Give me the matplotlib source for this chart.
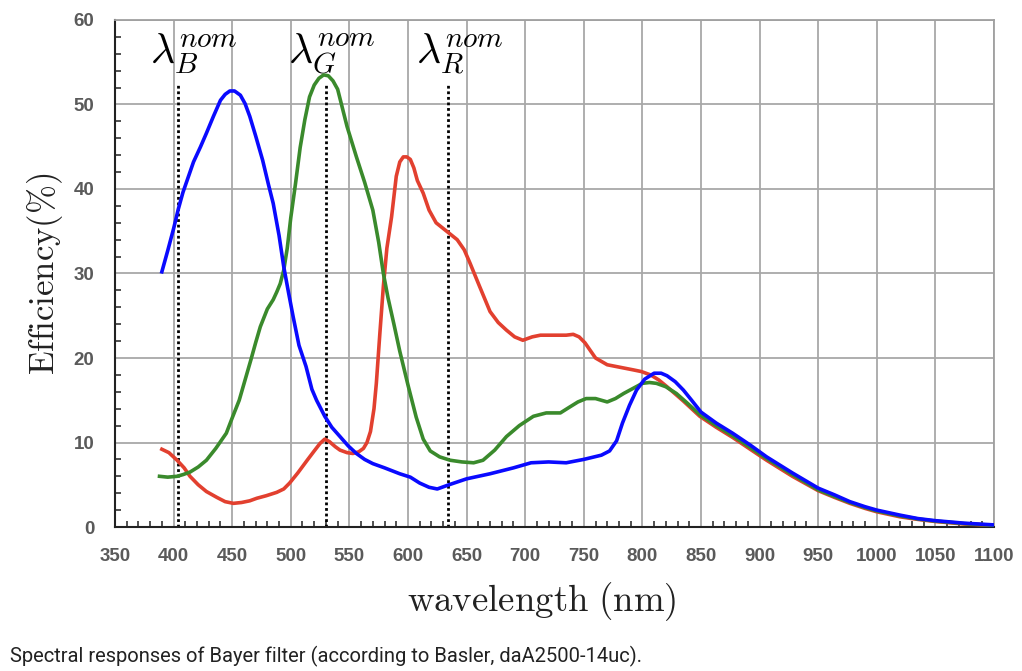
import matplotlib
matplotlib.use('Agg')
import matplotlib.pyplot as plt
from matplotlib.ticker import MultipleLocator

plt.rcParams['mathtext.fontset'] = 'cm'

# Blue channel
blue_nm = [390, 395, 400, 404, 408, 413, 417, 423, 428, 434, 440, 444, 448, 452, 457,
           461, 465, 470, 476, 481, 485, 490, 494, 498, 502, 507, 513, 518, 522, 529,
           535, 542, 549, 556, 563, 570, 580, 593, 602, 610, 618, 625, 635, 650,
           670, 690, 705, 720, 735, 750, 765, 772, 778, 783, 789, 795, 802, 810, 816,
           821, 828, 835, 842, 850, 863, 877, 892, 906, 928, 950, 964, 977, 990, 1000,
           1020, 1035, 1050, 1075, 1100]
blue_eff = [30.2, 32.7, 35.3, 37.6, 39.6, 41.6, 43.2, 45.0, 46.6, 48.6, 50.5, 51.2, 51.6, 51.6, 51.1,
            50.1, 48.6, 46.3, 43.4, 40.5, 38.3, 34.5, 30.8, 27.8, 24.9, 21.5, 19.0, 16.3, 15.0, 13.1,
            11.8, 10.7, 9.6, 8.7, 8.0, 7.5, 7.0, 6.3, 5.9, 5.2, 4.7, 4.5, 5.0, 5.7,
            6.3, 7.0, 7.6, 7.7, 7.6, 8.0, 8.5, 9.0, 10.2, 12.3, 14.4, 16.2, 17.5, 18.2, 18.2,
            17.9, 17.2, 16.2, 15.0, 13.6, 12.3, 11.1, 9.7, 8.3, 6.4, 4.6, 3.8, 3.0, 2.4, 2.0,
            1.4, 1.0, 0.75, 0.45, 0.25]

# Green channel
green_nm = [388, 395, 403, 408, 414, 421, 428, 436, 445, 450, 456, 461, 466, 470, 474,
            480, 485, 488, 491, 494, 497, 500, 504, 508, 512, 516, 520, 524, 528, 532,
            536, 540, 544, 548, 552, 556, 563, 570, 575, 579, 583, 588, 593, 600, 607,
            613, 619, 627, 636, 646, 656, 664, 674, 684, 695, 707, 718, 730,
            738, 745, 752, 760, 770, 777, 784, 792, 800, 806, 812, 820, 829, 838, 849,
            863, 877, 892, 906, 928, 950, 964, 977, 990, 1000, 1020, 1035, 1050, 1075, 1100]
green_eff = [6.0, 5.9, 6.0, 6.2, 6.5, 7.1, 7.9, 9.3, 11.1, 12.9, 15.0, 17.4, 19.8, 21.8, 23.7,
             25.8, 26.9, 27.8, 28.8, 30.4, 33.0, 36.6, 40.6, 44.9, 48.2, 50.9, 52.3, 53.1, 53.5, 53.4,
             52.8, 51.8, 49.6, 47.4, 45.6, 43.8, 40.8, 37.5, 33.7, 30.0, 27.1, 24.0, 20.8, 16.8, 13.0,
             10.4, 9.0, 8.3, 7.9, 7.7, 7.6, 7.9, 9.1, 10.7, 12.0, 13.1, 13.5, 13.5,
             14.2, 14.8, 15.2, 15.2, 14.8, 15.2, 15.8, 16.4, 17.0, 17.1, 17.0, 16.6, 15.8, 14.7, 13.3,
             12.0, 10.8, 9.4, 8.1, 6.2, 4.4, 3.6, 2.9, 2.3, 1.9, 1.3, 0.95, 0.7, 0.4, 0.2]

# Red channel
red_nm = [390, 396, 403, 409, 414, 421, 428, 437, 444, 451, 458, 465, 471, 479, 488,
          494, 499, 506, 514, 520, 525, 529, 533, 538, 542, 548, 553, 558, 562, 565,
          568, 571, 573, 576, 579, 582, 586, 590, 593, 596, 599, 602, 605, 608, 613,
          618, 624, 633, 642, 648, 653, 661, 670, 677, 684, 691, 698, 706, 713, 724,
          735, 741, 746, 751, 755, 760, 770, 781, 792, 799, 807, 814, 821, 835, 849,
          863, 877, 892, 906, 928, 950, 964, 977, 990, 1000, 1020, 1035, 1050, 1075, 1100]
red_eff = [9.2, 8.8, 7.9, 7.0, 6.0, 5.0, 4.2, 3.5, 3.0, 2.8, 2.9, 3.1, 3.4, 3.7, 4.1,
           4.5, 5.2, 6.4, 7.9, 9.0, 9.9, 10.4, 10.1, 9.5, 9.1, 8.8, 8.7, 8.9, 9.3, 10.0,
           11.3, 14.0, 17.0, 22.9, 28.5, 33.0, 36.7, 41.5, 43.2, 43.8, 43.8, 43.5, 42.5, 41.0, 39.5,
           37.5, 36.0, 35.0, 34.0, 32.8, 31.2, 28.5, 25.5, 24.2, 23.3, 22.5, 22.1, 22.5, 22.7, 22.7,
           22.7, 22.8, 22.5, 21.8, 21.0, 20.0, 19.2, 18.9, 18.6, 18.4, 18.0, 17.4, 16.6, 14.9, 13.1,
           11.8, 10.6, 9.2, 7.9, 6.0, 4.3, 3.5, 2.8, 2.2, 1.8, 1.2, 0.9, 0.65, 0.35, 0.2]

# nominal wavelengths
nom_nm = [404, 530, 634]
nom_top = 52.5
nom_labels = [r'$\lambda_B^{nom}$', r'$\lambda_G^{nom}$', r'$\lambda_R^{nom}$']
nom_label_x = [380, 498, 607]

fig = plt.figure(figsize=(10.22, 6.71), dpi=100)
ax = fig.add_axes([0.1125, 0.2146, 0.8601, 0.7556])

ax.grid(True, which='major', color='#a8a8a8', linewidth=1.3)
ax.set_axisbelow(True)

for x in nom_nm:
    ax.plot([x, x], [0, nom_top], color='black', linestyle=(0, (1, 1)), linewidth=2.0, zorder=2)

ax.plot(red_nm, red_eff, color='#e2402f', linewidth=2.6, zorder=3, solid_joinstyle='round')
ax.plot(green_nm, green_eff, color='#3a8a2c', linewidth=2.6, zorder=4, solid_joinstyle='round')
ax.plot(blue_nm, blue_eff, color='#0a0aff', linewidth=2.6, zorder=5, solid_joinstyle='round')

for lab, x in zip(nom_labels, nom_label_x):
    ax.text(x, 56.0, lab, fontsize=30, ha='left', va='center')

ax.set_xlim(350, 1100)
ax.set_ylim(0, 60)
ax.xaxis.set_major_locator(MultipleLocator(50))
ax.xaxis.set_minor_locator(MultipleLocator(10))
ax.yaxis.set_major_locator(MultipleLocator(10))
ax.yaxis.set_minor_locator(MultipleLocator(2))
ax.tick_params(which='both', direction='in', color='#333333')
ax.tick_params(which='major', length=0, pad=15)
ax.tick_params(which='minor', length=4, width=1.2)
for lab in ax.get_xticklabels() + ax.get_yticklabels():
    lab.set_fontfamily('Liberation Sans')
    lab.set_fontweight('bold')
    lab.set_color('#5a5a5a')
    lab.set_fontsize(13.5)

for side in ['top', 'right']:
    ax.spines[side].set_color('#a0a0a0')
    ax.spines[side].set_linewidth(1.3)
for side in ['left', 'bottom']:
    ax.spines[side].set_color('#222222')
    ax.spines[side].set_linewidth(1.5)

ax.set_xlabel(r'$\mathrm{wavelength\ (nm)}$', fontsize=26.5, color='#222222', labelpad=6)
ax.xaxis.set_label_coords(0.485, -0.105)
ax.set_ylabel(r'$\mathrm{Efficiency(\%)}$', fontsize=25, color='#222222', labelpad=6)

fig.text(0.01, 0.021, 'Spectral responses of Bayer filter (according to Basler, daA2500-14uc).',
         fontfamily='Roboto', fontsize=14.5, color='#222222', ha='left', va='center')

fig.savefig('out.png', dpi=100, facecolor='white')
